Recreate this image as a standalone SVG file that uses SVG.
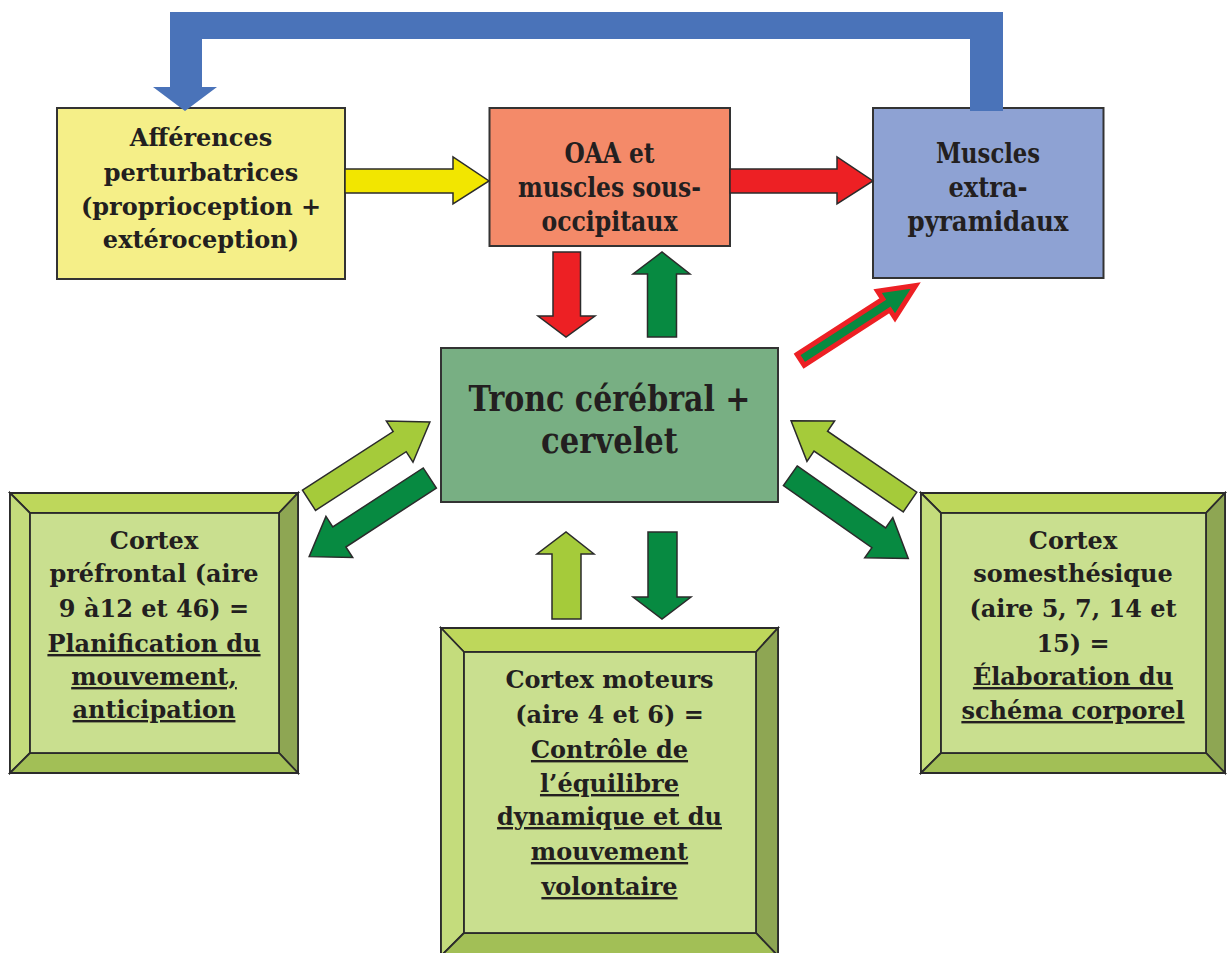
<svg xmlns="http://www.w3.org/2000/svg" width="1231" height="953" viewBox="0 0 1231 953">
<style>
.t{font-family:'DejaVu Serif',serif;font-weight:bold;fill:#231F20;text-anchor:middle;font-size:24px}
.c{font-family:'DejaVu Serif Condensed','DejaVu Serif',serif;font-stretch:condensed;font-weight:bold;fill:#231F20;text-anchor:middle}
.u{text-decoration:underline}
.box{stroke:#333;stroke-width:2}
.ar{stroke:#2b2b2b;stroke-width:1.5;stroke-linejoin:miter}
.bv{stroke:#2b2b2b;stroke-width:1.8;stroke-linejoin:miter}
.top{fill:#BED75B}.lft{fill:#C4DC7C}.rgt{fill:#8EA653}.bot{fill:#A2BF56}.face{fill:#C9DF8F}
.lg{fill:#A5CB3A}.dg{fill:#078A41}
</style>
<defs>
<polygon id="diag" points="0,-12 108,-12 108,-24.5 144,0 108,24.5 108,12 0,12"/>
</defs>
<rect width="1231" height="953" fill="#fff"/>
<g id="node-afferences">
<rect class="box" x="57" y="108" width="288" height="171" fill="#F5EF88"/>
<text class="t" x="201" y="146">Afférences</text>
<text class="t" x="201" y="181">perturbatrices</text>
<text class="t" x="201" y="215">(proprioception +</text>
<text class="t" x="201" y="248">extéroception)</text>
</g>
<g id="node-oaa">
<rect class="box" x="489.5" y="108" width="240.5" height="138" fill="#F48A69"/>
<text class="c" font-size="28" x="609.5" y="163" textLength="90" lengthAdjust="spacingAndGlyphs">OAA et</text>
<text class="c" font-size="28" x="609.5" y="197" textLength="183" lengthAdjust="spacingAndGlyphs">muscles sous-</text>
<text class="c" font-size="28" x="609.5" y="231" textLength="136" lengthAdjust="spacingAndGlyphs">occipitaux</text>
</g>
<g id="node-muscles">
<rect class="box" x="873" y="108" width="230.5" height="170" fill="#8EA2D3"/>
<text class="c" font-size="28" x="988" y="163" textLength="104" lengthAdjust="spacingAndGlyphs">Muscles</text>
<text class="c" font-size="28" x="988" y="197" textLength="79" lengthAdjust="spacingAndGlyphs">extra-</text>
<text class="c" font-size="28" x="988" y="231" textLength="161" lengthAdjust="spacingAndGlyphs">pyramidaux</text>
</g>
<g id="node-tronc">
<rect class="box" x="441" y="348" width="337" height="154" fill="#78AF83"/>
<text class="c" font-size="35" x="609.5" y="411" textLength="282" lengthAdjust="spacingAndGlyphs">Tronc cérébral +</text>
<text class="c" font-size="35" x="609.5" y="453" textLength="137" lengthAdjust="spacingAndGlyphs">cervelet</text>
</g>
<g id="node-prefrontal">
<rect class="bv face" x="10" y="493" width="288" height="280"/>
<polygon class="bv top" points="10,493 298,493 279,513 30,513"/>
<polygon class="bv lft" points="10,493 30,513 30,753 10,773"/>
<polygon class="bv rgt" points="298,493 298,773 279,753 279,513"/>
<polygon class="bv bot" points="10,773 30,753 279,753 298,773"/>
<rect class="bv face" x="30" y="513" width="249" height="240"/>
<text class="t" x="154" y="549">Cortex</text>
<text class="t" x="154" y="582">préfrontal (aire</text>
<text class="t" x="154" y="617">9 à12 et 46) =</text>
<text class="t u" x="154" y="652">Planification du</text>
<text class="t u" x="154" y="685">mouvement,</text>
<text class="t u" x="154" y="718">anticipation</text>
</g>
<g id="node-moteurs">
<rect class="bv face" x="441" y="628" width="337" height="332"/>
<polygon class="bv top" points="441,628 778,628 756,652 464,652"/>
<polygon class="bv lft" points="441,628 464,652 464,933 441,956"/>
<polygon class="bv rgt" points="778,628 778,956 756,933 756,652"/>
<polygon class="bv bot" points="441,956 464,933 756,933 778,956"/>
<rect class="bv face" x="464" y="652" width="292" height="281"/>
<text class="t" x="609.5" y="688">Cortex moteurs</text>
<text class="t" x="609.5" y="723">(aire 4 et 6) =</text>
<text class="t u" x="609.5" y="758">Contrôle de</text>
<text class="t u" x="609.5" y="792">l’équilibre</text>
<text class="t u" x="609.5" y="825">dynamique et du</text>
<text class="t u" x="609.5" y="860">mouvement</text>
<text class="t u" x="609.5" y="895">volontaire</text>
</g>
<g id="node-somesthesique">
<rect class="bv face" x="921" y="493" width="304" height="280"/>
<polygon class="bv top" points="921,493 1225,493 1206,513 941,513"/>
<polygon class="bv lft" points="921,493 941,513 941,753 921,773"/>
<polygon class="bv rgt" points="1225,493 1225,773 1206,753 1206,513"/>
<polygon class="bv bot" points="921,773 941,753 1206,753 1225,773"/>
<rect class="bv face" x="941" y="513" width="265" height="240"/>
<text class="t" x="1073" y="549">Cortex</text>
<text class="t" x="1073" y="582">somesthésique</text>
<text class="t" x="1073" y="617">(aire 5, 7, 14 et</text>
<text class="t" x="1073" y="652">15) =</text>
<text class="t u" x="1073" y="685">Élaboration du</text>
<text class="t u" x="1073" y="719">schéma corporel</text>
</g>
<g id="connectors">
<polygon fill="#4A73B9" points="170,12 1003,12 1003,111 970,111 970,39 202,39 202,87 217,87 185,111 153,87 170,87"/>
<polygon class="ar" fill="#F2E600" points="345,169 453,169 453,157 489,181 453,204 453,193 345,193"/>
<polygon class="ar" fill="#ED2024" points="730,169 837,169 837,157 873,181 837,204 837,193 730,193"/>
<polygon class="ar" fill="#ED2024" points="553,252 580.5,252 580.5,316 595,316 566,337 538,316 553,316"/>
<polygon class="ar dg" points="647.5,337 676.5,337 676.5,274 690,274 662,252 633,274 647.5,274"/>
<polygon class="ar lg" points="552,619 581,619 581,554 594,554 566,532 537,554 552,554"/>
<polygon class="ar dg" points="648,532 677,532 677,597 691,597 662,619 633,597 648,597"/>
<use href="#diag" class="ar lg" transform="translate(309,500.3) rotate(-32.9)"/>
<use href="#diag" class="ar dg" transform="translate(429.8,478) rotate(146.9)"/>
<use href="#diag" class="ar lg" transform="translate(910,502) rotate(-145.7)"/>
<use href="#diag" class="ar dg" transform="translate(790.3,475.8) rotate(35)"/>
<polygon fill="#078A41" stroke="#ED2024" stroke-width="5" stroke-linejoin="miter" transform="translate(799,361) rotate(-32.9)" points="2,-6.5 104,-6.5 104,-16 139,0 104,16 104,6.5 2,6.5"/>
</g>
</svg>
